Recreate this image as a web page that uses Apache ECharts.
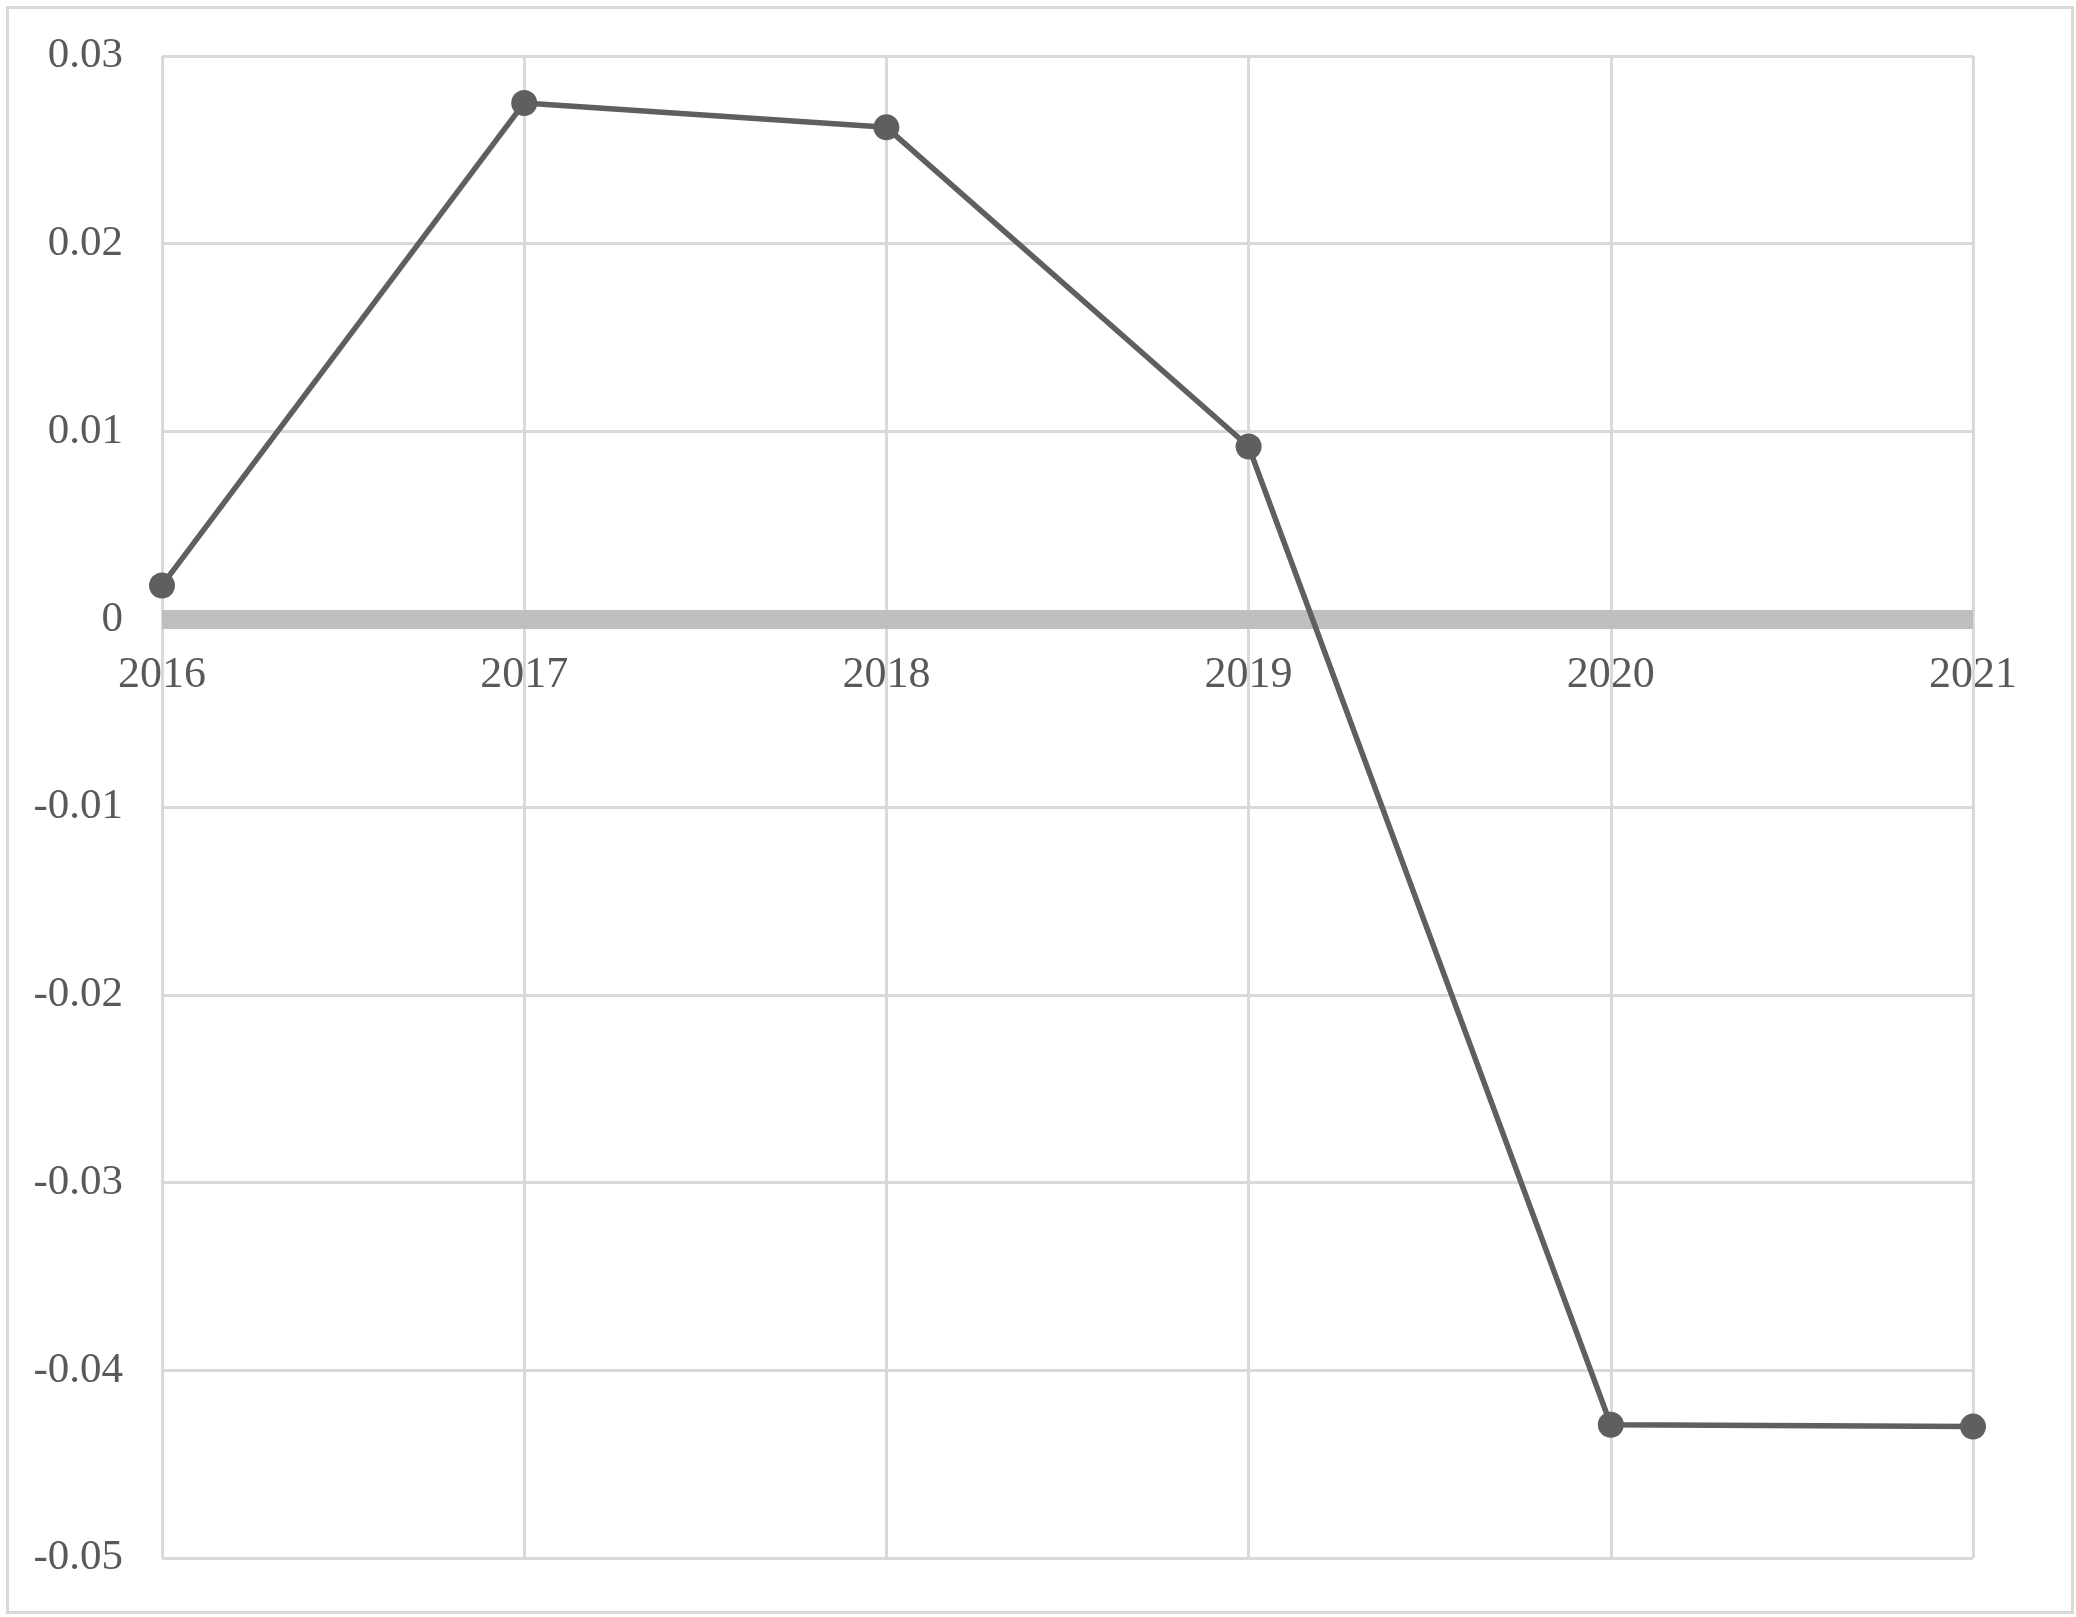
<!DOCTYPE html>
<html>
<head>
<meta charset="utf-8">
<script src="https://cdn.jsdelivr.net/npm/echarts@6/dist/echarts.min.js"></script>
<style>
  html, body { margin: 0; padding: 0; background: #fff; }
  #chart { width: 2076px; height: 1617px; }
</style>
</head>
<body>
<div id="chart"></div>
<script>
const years = ['2016', '2017', '2018', '2019', '2020', '2021'];
const values = [0.0018, 0.0275, 0.0262, 0.0092, -0.0429, -0.0430];
const yTicks = { min: -0.05, max: 0.03, step: 0.01 };

const textColor = '#595959';
const font = 'Liberation Serif';

const W = 2076, H = 1617;
const gridBox = { left: 162, right: 103, top: 56, bottom: 59 };
// height of the part above zero, so the year labels can sit under the zero line
const plotH = H - gridBox.top - gridBox.bottom;
const upperH = plotH * yTicks.max / (yTicks.max - yTicks.min);

const chart = echarts.init(document.getElementById('chart'), null, {
  width: W,
  height: H,
  renderer: 'canvas',
  devicePixelRatio: 1,
});

chart.setOption({
  backgroundColor: '#fff',
  animation: false,
  graphic: [
    {
      type: 'rect',
      left: 5,
      top: 5,
      shape: { width: 2065, height: 1605 },
      style: { fill: 'none', stroke: '#d9d9d9', lineWidth: 3 },
      silent: true,
    },
  ],
  grid: [
    gridBox,
    { left: gridBox.left, right: gridBox.right, top: gridBox.top, height: upperH },
  ],
  xAxis: [
    {
      type: 'category',
      data: years,
      boundaryGap: false,
      axisLine: {
        onZero: true,
        lineStyle: { color: '#bfbfbf', width: 19, cap: 'butt' },
      },
      axisTick: { show: false },
      axisLabel: { show: false },
      splitLine: {
        show: true,
        lineStyle: { color: '#d9d9d9', width: 3 },
      },
      z: 1,
    },
    {
      type: 'category',
      gridIndex: 1,
      data: years,
      boundaryGap: false,
      position: 'bottom',
      axisLine: { show: false },
      axisTick: { show: false },
      splitLine: { show: false },
      axisLabel: {
        color: textColor,
        fontFamily: font,
        fontSize: 44,
        margin: 34,
        showMinLabel: true,
        showMaxLabel: true,
        hideOverlap: false,
      },
    },
  ],
  yAxis: [
    {
      type: 'value',
      min: yTicks.min,
      max: yTicks.max,
      interval: yTicks.step,
      axisLine: { show: false },
      axisTick: { show: false },
      axisLabel: {
        color: textColor,
        fontFamily: font,
        fontSize: 43,
        margin: 39,
      },
      splitLine: {
        lineStyle: { color: '#d9d9d9', width: 3 },
      },
    },
    {
      type: 'value',
      gridIndex: 1,
      show: false,
    },
  ],
  series: [
    {
      type: 'line',
      data: values,
      symbol: 'circle',
      symbolSize: 26,
      lineStyle: { color: '#5f5f5f', width: 5.5 },
      itemStyle: { color: '#5f5f5f' },
      z: 5,
    },
  ],
});
</script>
</body>
</html>
